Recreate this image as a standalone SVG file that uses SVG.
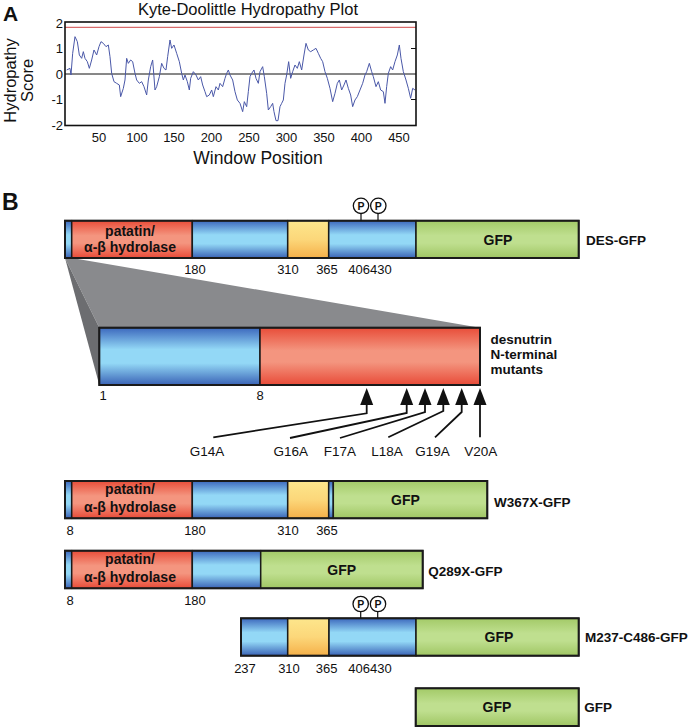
<svg xmlns="http://www.w3.org/2000/svg" width="700" height="728" viewBox="0 0 700 728">
<defs>
<linearGradient id="gBlue" x1="0" y1="0" x2="0" y2="1"><stop offset="0" stop-color="#3c68bd"/><stop offset="0.38" stop-color="#93d8f6"/><stop offset="0.62" stop-color="#93d8f6"/><stop offset="1" stop-color="#3a63b6"/></linearGradient>
<linearGradient id="gRed" x1="0" y1="0" x2="0" y2="1"><stop offset="0" stop-color="#e84d39"/><stop offset="0.4" stop-color="#f4957f"/><stop offset="0.6" stop-color="#f4957f"/><stop offset="1" stop-color="#e84b38"/></linearGradient>
<linearGradient id="gYel" x1="0" y1="0" x2="0" y2="1"><stop offset="0" stop-color="#fde68c"/><stop offset="0.5" stop-color="#fcd77a"/><stop offset="1" stop-color="#f5b049"/></linearGradient>
<linearGradient id="gGrn" x1="0" y1="0" x2="0" y2="1"><stop offset="0" stop-color="#a3ca68"/><stop offset="0.4" stop-color="#bfdf8f"/><stop offset="0.6" stop-color="#bfdf8f"/><stop offset="1" stop-color="#a0c664"/></linearGradient>
</defs>
<style>
text{font-family:"Liberation Sans",Arial,sans-serif;fill:#111}
.b{fill:url(#gBlue)} .r{fill:url(#gRed)} .y{fill:url(#gYel)} .g{fill:url(#gGrn)}
.seg{stroke:#1a1a1a;stroke-width:1.5}
.out{fill:none;stroke:#1a1a1a;stroke-width:2}
.lbl{font-size:14px;font-weight:bold;text-anchor:middle}
.name{font-size:13.5px;font-weight:bold}
.num{font-size:13px;text-anchor:middle}
.pc{fill:#fff;stroke:#111;stroke-width:1.3}
.pt{font-size:10.5px;font-weight:bold;text-anchor:middle}
.stem{stroke:#111;stroke-width:1.2}
.mut{font-size:13.5px;text-anchor:middle}
.ln{fill:none;stroke:#111;stroke-width:1.8}
.tick{font-size:13px}
</style>

<g id="panelA">
<text x="3" y="21" style="font-size:21px;font-weight:bold">A</text>
<text x="248" y="15" style="font-size:16.5px;text-anchor:middle">Kyte-Doolittle Hydropathy Plot</text>
<line x1="65" y1="27.3" x2="416" y2="27.3" stroke="#d04848" stroke-width="1"/>
<line x1="65" y1="74" x2="416" y2="74" stroke="#111" stroke-width="1"/>
<polyline vector-effect="non-scaling-stroke" transform="scale(0.33333)" fill="none" stroke="#4a58a8" stroke-width="1" stroke-linejoin="round" points="200,210 210,205 213,225 218,160 225,110 232,125 238,165 245,175 250,155 255,175 262,185 268,205 275,180 282,150 290,165 297,140 303,125 310,130 318,140 325,135 330,170 335,220 342,245 350,250 358,255 362,290 370,265 375,240 380,175 385,190 392,180 398,185 405,220 410,240 418,250 425,245 432,260 440,285 445,240 452,200 458,180 465,270 470,260 478,230 485,190 492,205 498,210 503,170 510,120 515,145 522,135 530,160 538,185 545,220 550,240 555,225 562,245 568,270 572,235 580,215 588,225 595,240 602,230 608,255 615,275 620,290 628,285 635,270 640,290 648,260 655,270 660,250 668,260 675,235 680,220 685,210 690,225 698,240 705,275 712,300 720,310 728,335 733,305 740,320 745,275 750,230 755,220 762,210 768,235 775,250 780,215 788,200 793,230 800,280 805,330 812,320 818,310 822,335 828,362 834,362 840,320 845,310 850,300 855,250 860,225 866,185 872,235 878,215 885,195 892,205 898,185 905,210 912,165 918,130 925,150 932,155 940,150 948,145 955,160 962,175 968,185 975,215 982,235 990,265 998,305 1005,280 1012,250 1018,240 1025,270 1032,255 1038,240 1045,265 1052,285 1058,320 1065,300 1072,290 1080,270 1088,250 1095,225 1100,215 1108,190 1115,215 1120,230 1128,260 1135,245 1142,270 1150,275 1155,310 1160,260 1165,220 1172,200 1178,210 1185,185 1192,165 1198,135 1203,175 1210,215 1218,240 1225,265 1232,295 1238,265 1245,270"/>
<rect x="65" y="22" width="351" height="103.5" fill="none" stroke="#111" stroke-width="1.6"/>
<g stroke="#111" stroke-width="1">
<line x1="411" y1="48.5" x2="416" y2="48.5"/><line x1="411" y1="99.5" x2="416" y2="99.5"/>
</g>
<g class="tick" style="text-anchor:end">
<text x="63" y="28">2</text><text x="63" y="53">1</text><text x="63" y="78.5">0</text><text x="63" y="104">-1</text><text x="63" y="129.5">-2</text>
</g>
<g class="tick" style="text-anchor:middle">
<text x="99" y="141.5">50</text><text x="137" y="141.5">100</text><text x="174" y="141.5">150</text><text x="211.5" y="141.5">200</text><text x="249" y="141.5">250</text><text x="286.5" y="141.5">300</text><text x="324" y="141.5">350</text><text x="361.5" y="141.5">400</text><text x="399" y="141.5">450</text>
</g>
<text x="258" y="163.5" style="font-size:17.5px;text-anchor:middle">Window Position</text>
<text transform="translate(16,80.5) rotate(-90)" style="font-size:16.5px;text-anchor:middle">Hydropathy</text>
<text transform="translate(33,80.5) rotate(-90)" style="font-size:16.5px;text-anchor:middle">Score</text>
</g>

<text x="2" y="210" style="font-size:23px;font-weight:bold">B</text>

<g id="zoom-projection">
<polygon points="65,258 72,258 480,327.7 99.3,327.7" fill="#898a8d"/>
<polygon points="65,258 99.3,327.7 99.3,385" fill="#6c6d70"/>
</g>

<g id="des-gfp">
<rect class="b seg" x="65" y="220.7" width="6.7" height="37.3"/>
<rect class="r seg" x="71.7" y="220.7" width="120.6" height="37.3"/>
<rect class="b seg" x="192.3" y="220.7" width="95.4" height="37.3"/>
<rect class="y seg" x="287.7" y="220.7" width="41" height="37.3"/>
<rect class="b seg" x="328.7" y="220.7" width="87.3" height="37.3"/>
<rect class="g seg" x="416" y="220.7" width="162.7" height="37.3"/>
<rect class="out" x="65" y="220.7" width="513.7" height="37.3"/>
<text class="lbl" x="130" y="236">patatin/</text>
<text class="lbl" x="130" y="252">α-β hydrolase</text>
<text class="lbl" x="498" y="244.5">GFP</text>
<text class="name" x="586" y="245">DES-GFP</text>
<line class="stem" x1="361" y1="213.5" x2="361" y2="220.7"/><line class="stem" x1="378" y1="213.5" x2="378" y2="220.7"/>
<circle class="pc" cx="361" cy="205.8" r="7.7"/><circle class="pc" cx="378.3" cy="205.8" r="7.7"/>
<text class="pt" x="361" y="209.6">P</text><text class="pt" x="378.3" y="209.6">P</text>
<text class="num" x="195" y="273.5">180</text><text class="num" x="288" y="273.5">310</text><text class="num" x="327" y="273.5">365</text><text class="num" x="370" y="273.5">406430</text>
</g>

<g id="desnutrin-nterm">
<rect class="b seg" x="99.3" y="327.7" width="160.7" height="57.3"/>
<rect class="r seg" x="260" y="327.7" width="220" height="57.3"/>
<rect class="out" x="99.3" y="327.7" width="380.7" height="57.3"/>
<text class="num" x="103" y="399.5">1</text><text class="num" x="260" y="399.5">8</text>
<text class="name" x="490.5" y="344">desnutrin</text>
<text class="name" x="490.5" y="359">N-terminal</text>
<text class="name" x="490.5" y="374">mutants</text>
</g>

<g id="connectors">
<g fill="#111">
<polygon points="366.7,388 360.2,405 373.2,405"/>
<polygon points="406.7,388 400.2,405 413.2,405"/>
<polygon points="425,388 418.5,405 431.5,405"/>
<polygon points="443.3,388 436.8,405 449.8,405"/>
<polygon points="461.7,388 455.2,405 468.2,405"/>
<polygon points="480,388 473.5,405 486.5,405"/>
</g>
<polyline class="ln" points="366.7,404 366.7,413.3 213.3,437.3"/>
<polyline class="ln" points="406.7,404 406.7,413 290,438"/>
<polyline class="ln" points="425,404 425,412 340,438"/>
<polyline class="ln" points="443.3,404 443.3,411 388.3,437.3"/>
<polyline class="ln" points="461.7,404 461.7,412 435,437.3"/>
<polyline class="ln" points="480,404 480,437.3"/>
</g>

<g id="mutant-labels">
<text class="mut" x="207" y="456">G14A</text>
<text class="mut" x="290.7" y="456">G16A</text>
<text class="mut" x="340" y="456">F17A</text>
<text class="mut" x="387" y="456">L18A</text>
<text class="mut" x="432.5" y="456">G19A</text>
<text class="mut" x="480.7" y="456">V20A</text>
</g>

<g id="w367x-gfp">
<rect class="b seg" x="65" y="481" width="6.7" height="37.3"/>
<rect class="r seg" x="71.7" y="481" width="120.6" height="37.3"/>
<rect class="b seg" x="192.3" y="481" width="95.4" height="37.3"/>
<rect class="y seg" x="287.7" y="481" width="41" height="37.3"/>
<rect class="b seg" x="328.7" y="481" width="4.6" height="37.3"/>
<rect class="g seg" x="333.3" y="481" width="154" height="37.3"/>
<rect class="out" x="65" y="481" width="422.3" height="37.3"/>
<text class="lbl" x="130" y="493.5">patatin/</text>
<text class="lbl" x="130" y="511.5">α-β hydrolase</text>
<text class="lbl" x="405.5" y="505">GFP</text>
<text class="name" x="494" y="506.5">W367X-GFP</text>
<text class="num" x="70" y="534.5">8</text><text class="num" x="195" y="534.5">180</text><text class="num" x="288" y="534.5">310</text><text class="num" x="327" y="534.5">365</text>
</g>

<g id="q289x-gfp">
<rect class="b seg" x="65" y="550.7" width="6.7" height="37.6"/>
<rect class="r seg" x="71.7" y="550.7" width="120.6" height="37.6"/>
<rect class="b seg" x="192.3" y="550.7" width="68.4" height="37.6"/>
<rect class="g seg" x="260.7" y="550.7" width="162" height="37.6"/>
<rect class="out" x="65" y="550.7" width="357.7" height="37.6"/>
<text class="lbl" x="130" y="563.5">patatin/</text>
<text class="lbl" x="130" y="582">α-β hydrolase</text>
<text class="lbl" x="341.7" y="574.5">GFP</text>
<text class="name" x="428.3" y="575.5">Q289X-GFP</text>
<text class="num" x="70" y="604.5">8</text><text class="num" x="195" y="604.5">180</text>
</g>

<g id="m237-c486-gfp">
<rect class="b seg" x="241" y="618.3" width="46.7" height="37.4"/>
<rect class="y seg" x="287.7" y="618.3" width="41.3" height="37.4"/>
<rect class="b seg" x="329" y="618.3" width="87" height="37.4"/>
<rect class="g seg" x="416" y="618.3" width="162.7" height="37.4"/>
<rect class="out" x="241" y="618.3" width="337.7" height="37.4"/>
<line class="stem" x1="360.7" y1="611.5" x2="360.7" y2="618.3"/><line class="stem" x1="377.7" y1="611.5" x2="377.7" y2="618.3"/>
<circle class="pc" cx="360.7" cy="604" r="7.7"/><circle class="pc" cx="378" cy="604" r="7.7"/>
<text class="pt" x="360.7" y="607.8">P</text><text class="pt" x="378" y="607.8">P</text>
<text class="lbl" x="499" y="641.5">GFP</text>
<text class="name" x="585" y="641.5">M237-C486-GFP</text>
<text class="num" x="245" y="673">237</text><text class="num" x="289" y="673">310</text><text class="num" x="326.7" y="673">365</text><text class="num" x="370" y="673">406430</text>
</g>

<g id="gfp">
<rect class="g seg" x="415.7" y="688.3" width="163" height="37.7"/>
<rect class="out" x="415.7" y="688.3" width="163" height="37.7"/>
<text class="lbl" x="497" y="712">GFP</text>
<text class="name" x="584.3" y="712">GFP</text>
</g>
</svg>
